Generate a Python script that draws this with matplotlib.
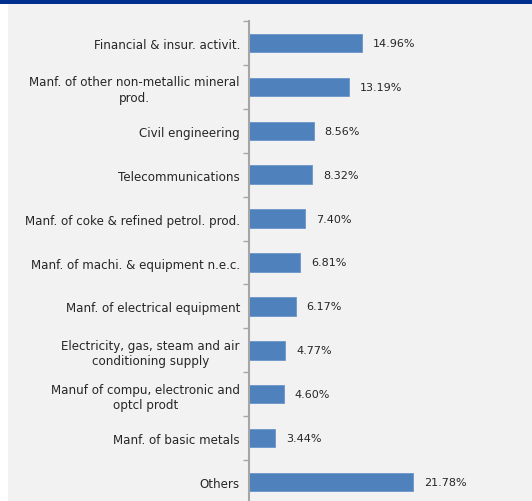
import matplotlib
matplotlib.use("Agg")
import matplotlib.pyplot as plt
from matplotlib.patches import Rectangle

categories = [
    "Financial & insur. activit.",
    "Manf. of other non-metallic mineral\nprod.",
    "Civil engineering",
    "Telecommunications",
    "Manf. of coke & refined petrol. prod.",
    "Manf. of machi. & equipment n.e.c.",
    "Manf. of electrical equipment",
    "Electricity, gas, steam and air\nconditioning supply",
    "Manuf of compu, electronic and\noptcl prodt",
    "Manf. of basic metals",
    "Others",
]
shares = [14.96, 13.19, 8.56, 8.32, 7.40, 6.81, 6.17, 4.77, 4.60, 3.44, 21.78]

W, H = 532, 502
fig = plt.figure(figsize=(W / 100, H / 100), dpi=100, facecolor="white")

# panel background and header strip
fig.patches.append(Rectangle((8 / W, 0), 1 - 8 / W, 1, transform=fig.transFigure,
                             facecolor="#f2f2f2", edgecolor="none", zorder=-2))
fig.patches.append(Rectangle((0, 1 - 5 / H), 1, 5 / H, transform=fig.transFigure,
                             facecolor="#00308f", edgecolor="none", zorder=-1))

left_px, top_px, bottom_px = 249, 22, 505
ax = fig.add_axes([left_px / W, 1 - bottom_px / H, 1 - left_px / W, (bottom_px - top_px) / H])
ax.set_facecolor("none")

ypos = list(range(len(categories)))
ax.barh(ypos, shares, height=0.42, color="#4f81bd", edgecolor="#6a95c9", linewidth=0.6, zorder=2)
ax.set_xlim(0, (W - left_px) / 7.55)
ax.set_ylim(len(categories) - 0.5, -0.5)

font = "DejaVu Sans"
for y, v in zip(ypos, shares):
    ax.annotate(f"{v:.2f}%", xy=(v, y), xytext=(8, 0), textcoords="offset points",
                va="center", ha="left", fontsize=8, color="#262626", family=font)

ax.set_yticks(ypos)
ax.set_yticklabels(categories, fontsize=8.6, color="#262626", family=font,
                   multialignment="center", linespacing=1.25)
ax.tick_params(axis="y", length=0, pad=6.5)
ax.set_yticks([i + 0.5 for i in range(-1, len(categories))], minor=True)
ax.tick_params(axis="y", which="minor", length=4, width=1, color="#a6a6a6", direction="out")
ax.set_xticks([])
for s in ["top", "right", "bottom"]:
    ax.spines[s].set_visible(False)
ax.spines["left"].set_color("#a6a6a6")
ax.spines["left"].set_linewidth(1.5)

fig.savefig("out.png", dpi=100, facecolor=fig.get_facecolor())
